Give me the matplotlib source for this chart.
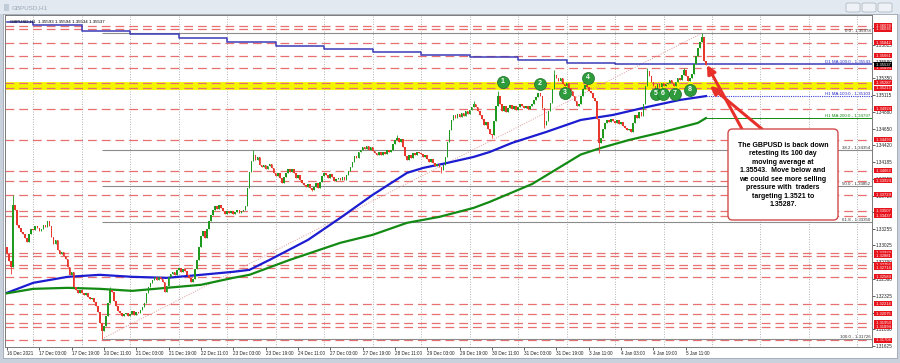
import numpy as np
from matplotlib import pyplot as plt
from matplotlib import transforms
from matplotlib.patches import FancyBboxPatch, Rectangle

plt.rcParams['font.family'] = ['Liberation Sans', 'DejaVu Sans']

# GBPUSD H1 closes, 16 Dec 11:00 -> 5 Jan 21:00 (broker time)
closes = [
    1.3290, 1.3281, 1.3273, 1.3359, 1.3352, 1.3331, 1.3327, 1.3321, 1.3318, 1.3313,
    1.3307, 1.3318, 1.3326, 1.3324, 1.3330, 1.3327, 1.3322, 1.3326, 1.3331, 1.3328,
    1.3336, 1.3330, 1.3315, 1.3305, 1.3310, 1.3296, 1.3290, 1.3294, 1.3288, 1.3284,
    1.3272, 1.3261, 1.3266, 1.3245, 1.3240, 1.3236, 1.3240, 1.3236, 1.3233, 1.3237,
    1.3231, 1.3228, 1.3230, 1.3224, 1.3219, 1.3210, 1.3195, 1.3183, 1.3190, 1.3205,
    1.3222, 1.3240, 1.3238, 1.3225, 1.3218, 1.3212, 1.3208, 1.3205, 1.3207, 1.3209,
    1.3204, 1.3207, 1.3211, 1.3206, 1.3210, 1.3208, 1.3213, 1.3217, 1.3222, 1.3236,
    1.3245, 1.3250, 1.3255, 1.3258, 1.3254, 1.3259, 1.3256, 1.3252, 1.3238, 1.3246,
    1.3258, 1.3263, 1.3266, 1.3262, 1.3268, 1.3271, 1.3266, 1.3270, 1.3267, 1.3262,
    1.3257, 1.3252, 1.3256, 1.3270, 1.3283, 1.3300, 1.3316, 1.3323, 1.3313, 1.3326,
    1.3336, 1.3345, 1.3352, 1.3357, 1.3353, 1.3359, 1.3354, 1.3350, 1.3346, 1.3350,
    1.3347, 1.3351, 1.3346, 1.3349, 1.3352, 1.3348, 1.3350, 1.3352, 1.3357, 1.3382,
    1.3405, 1.3420, 1.3428, 1.3421, 1.3425, 1.3414, 1.3411, 1.3415, 1.3409, 1.3413,
    1.3416, 1.3410, 1.3404, 1.3399, 1.3404, 1.3396, 1.3390, 1.3398, 1.3403, 1.3409,
    1.3405, 1.3409, 1.3403, 1.3397, 1.3401, 1.3394, 1.3390, 1.3386, 1.3384, 1.3388,
    1.3382, 1.3380, 1.3384, 1.3389, 1.3383, 1.3391, 1.3399, 1.3404, 1.3401, 1.3396,
    1.3402, 1.3398, 1.3392, 1.3395, 1.3397, 1.3393, 1.3398, 1.3394, 1.3400, 1.3406,
    1.3411, 1.3419, 1.3427, 1.3424, 1.3432, 1.3436, 1.3440, 1.3437, 1.3441, 1.3436,
    1.3439, 1.3434, 1.3431, 1.3428, 1.3432, 1.3429, 1.3433, 1.3430, 1.3435, 1.3432,
    1.3436, 1.3443, 1.3449, 1.3452, 1.3447, 1.3451, 1.3440, 1.3427, 1.3421, 1.3428,
    1.3424, 1.3431, 1.3428, 1.3433, 1.3431, 1.3430, 1.3425, 1.3429, 1.3423, 1.3419,
    1.3423, 1.3417, 1.3413, 1.3416, 1.3411, 1.3408, 1.3414, 1.3426, 1.3446, 1.3463,
    1.3477, 1.3484, 1.3480, 1.3485, 1.3481, 1.3487, 1.3483, 1.3489, 1.3486, 1.3491,
    1.3495, 1.3499, 1.3495, 1.3490, 1.3484, 1.3478, 1.3470, 1.3474, 1.3464, 1.3458,
    1.3456, 1.3476, 1.3496, 1.3510, 1.3500, 1.3490, 1.3497, 1.3488, 1.3494, 1.3498,
    1.3493, 1.3496, 1.3491, 1.3495, 1.3499, 1.3496, 1.3494, 1.3497, 1.3492, 1.3496,
    1.3500, 1.3505, 1.3509, 1.3514, 1.3510, 1.3494, 1.3470, 1.3476, 1.3489, 1.3501,
    1.3520, 1.3540, 1.3536, 1.3531, 1.3535, 1.3527, 1.3524, 1.3528, 1.3521, 1.3517,
    1.3510, 1.3503, 1.3497, 1.3500, 1.3511, 1.3520, 1.3526, 1.3523, 1.3518, 1.3514,
    1.3508, 1.3503, 1.3478, 1.3445, 1.3452, 1.3465, 1.3473, 1.3477, 1.3474, 1.3479,
    1.3476, 1.3473, 1.3477, 1.3471, 1.3474, 1.3469, 1.3466, 1.3463, 1.3465, 1.3461,
    1.3473, 1.3484, 1.3480, 1.3488, 1.3483, 1.3500, 1.3525, 1.3545, 1.3538, 1.3530,
    1.3525, 1.3522, 1.3527, 1.3523, 1.3528, 1.3524, 1.3527, 1.3529, 1.3533, 1.3528,
    1.3524, 1.3530, 1.3535, 1.3532, 1.3540, 1.3546, 1.3538, 1.3531, 1.3535, 1.3541,
    1.3555, 1.3566, 1.3577, 1.3585, 1.3592, 1.3559, 1.35537,
]
first_open = 1.3300

# visible wick extremes
wick_hi_bars = [3, 51, 122, 193, 231, 243, 271, 317, 335, 344, 346]
wick_hi = [1.3373, 1.3245, 1.3435, 1.3456, 1.3503, 1.3517, 1.3547, 1.3550, 1.3550, 1.35978, 1.35594]
wick_lo_bars = [2, 47, 151, 215, 240, 266, 293, 346]
wick_lo = [1.3263, 1.31726, 1.3378, 1.3404, 1.3452, 1.3466, 1.3431, 1.35534]

# moving averages
h1_ma100_bars = [0, 13, 30, 46, 62, 79, 96, 112, 120, 130, 149, 165, 181, 198, 206, 218,
                 231, 239, 250, 267, 284, 300, 317, 333, 346]
h1_ma100 = [1.32367, 1.32506, 1.32589, 1.32617, 1.32589, 1.32575, 1.32617, 1.32659, 1.32686,
            1.32825, 1.33103, 1.33409, 1.33729, 1.34035, 1.34104, 1.34174, 1.34257, 1.34326,
            1.34452, 1.34605, 1.34771, 1.34841, 1.34952, 1.35049, 1.35103]
h1_ma200_bars = [0, 13, 30, 46, 62, 79, 96, 112, 120, 140, 165, 181, 198, 214, 231, 239,
                 260, 284, 294, 308, 325, 342, 346]
h1_ma200 = [1.32360, 1.32422, 1.32436, 1.32422, 1.32394, 1.32436, 1.32478, 1.32575, 1.32617,
            1.32825, 1.33062, 1.33173, 1.33340, 1.33423, 1.33548, 1.33632, 1.33881, 1.34290,
            1.34382, 1.34493, 1.34605, 1.34730, 1.34797]
d1_days = [0, 13, 37, 61, 85, 109, 133, 157, 181, 205, 229, 253, 277, 301, 325]
d1_ma100 = [1.36134, 1.36092, 1.36009, 1.35967, 1.35911, 1.35856, 1.35793, 1.35758, 1.35717,
            1.35675, 1.35647, 1.35605, 1.35564, 1.35550, 1.35543]

red_levels = [1.36078, 1.36036, 1.35842, 1.35661, 1.35494, 1.35287, 1.35213, 1.34924,
              1.34493, 1.34063, 1.33924, 1.33729, 1.33507, 1.33437, 1.32923, 1.32881,
              1.32756, 1.32714, 1.32589, 1.32214, 1.32075, 1.31950, 1.31894, 1.31704]
zone_low, zone_high = 1.35213, 1.35287

fib_names = ['0.0', '38.2', '50.0', '61.8', '100.0']
fib_levels = [1.35978, 1.34354, 1.33852, 1.33350, 1.31726]
fib_low_bar, fib_high_bar = 47, 344

touch_bars = [245.5, 263.9, 276.2, 287.6, 321.3, 324.8, 330.7, 338.1]
touch_prices = [1.35300, 1.35272, 1.35147, 1.35355, 1.35133, 1.35133, 1.35133, 1.35188]

price_ticks = [1.31625, 1.31860, 1.32090, 1.32325, 1.32560, 1.32790, 1.33025, 1.33255,
               1.33490, 1.33720, 1.33955, 1.34185, 1.34420, 1.34650, 1.34880, 1.35115,
               1.35350, 1.35580, 1.35815, 1.36045]
time_labels = ['16 Dec 2021', '17 Dec 03:00', '17 Dec 19:00', '20 Dec 11:00', '21 Dec 03:00',
               '21 Dec 19:00', '22 Dec 11:00', '23 Dec 03:00', '23 Dec 19:00', '24 Dec 11:00',
               '27 Dec 03:00', '27 Dec 19:00', '28 Dec 11:00', '29 Dec 03:00', '29 Dec 19:00',
               '30 Dec 11:00', '31 Dec 03:00', '31 Dec 19:00', '3 Jan 11:00', '4 Jan 03:00',
               '4 Jan 19:00', '5 Jan 11:00']
last_price = 1.35537

note = ("The GBPUSD is back down\nretesting its 100 day\nmoving average at\n"
        "1.35543.  Move below and\nwe could see more selling\npressure with  traders\n"
        "targeting 1.3521 to\n1.35287.")

GREEN = '#1e9a1e'
RED = '#e8382e'
W, H = 900, 363


def px(x, y):
    return (x / W, 1 - y / H)


fig = plt.figure(figsize=(9, 3.63), dpi=100, facecolor='#c9d2dc')

# window chrome (behind the axes)
fig.patches.append(Rectangle(px(0, 14), 1, 14 / H, transform=fig.transFigure,
                             facecolor='#e3e9f0', edgecolor='none', zorder=-2))
fig.patches.append(Rectangle(px(3, 358), 894 / W, 344 / H, transform=fig.transFigure,
                             facecolor='white', edgecolor='#9aa6b2', lw=0.6, zorder=-2))
fig.text(*px(12, 7.5), 'GBPUSD,H1', fontsize=4.5, color='#9aa8b8', va='center')
fig.patches.append(Rectangle(px(4, 11), 5 / W, 7 / H, transform=fig.transFigure,
                             facecolor='#c0ccd8', edgecolor='none', zorder=-1))
for bx in [846, 862, 878]:
    fig.patches.append(FancyBboxPatch(px(bx, 12), 14 / W, 9 / H, transform=fig.transFigure,
                                      boxstyle='round,pad=0,rounding_size=0.003',
                                      facecolor='#eef2f6', edgecolor='#a4b0bc', lw=0.5, zorder=-1))

ax = fig.add_axes([4.5 / W, 1 - 346.5 / H, (872 - 4.5) / W, (346.5 - 15) / H])
ax.set_zorder(1)
ax.set_facecolor('white')
xmin, xmax = -1.25, 428.2
ax.set_xlim(xmin, xmax)
ax.set_ylim(1.31620, 1.36231)
for s in ax.spines.values():
    s.set_color('#7a7a7a')
    s.set_linewidth(0.7)

# day separators
for d in range(13, 429, 24):
    ax.axvline(d, color='#9a9a9a', lw=0.6, ls=(0, (1, 2)), zorder=1)

# support / resistance
ax.axhspan(zone_low, zone_high, color='#f4f400', lw=2.0, zorder=1)
for lvl in red_levels:
    ax.axhline(lvl, color='#e87070', lw=0.9, ls=(0, (7, 4)), zorder=2)

# fibonacci retracement
ax.hlines(fib_levels, fib_low_bar, xmax, colors='#8c8c8c', lw=0.8, zorder=2)
ax.plot([fib_low_bar, fib_high_bar], [fib_levels[-1], fib_levels[0]],
        color='#e09a9a', lw=0.7, ls=(0, (1, 1.5)), zorder=2)
for name, lvl in zip(fib_names, fib_levels):
    ax.text(xmax - 0.8, lvl + 0.00005, '%s - %.5f' % (name, lvl), ha='right', va='bottom',
            fontsize=3.2, color='#333333', zorder=6)

# moving averages
ax.step(d1_days + [xmax], d1_ma100 + [d1_ma100[-1]], where='post', color='#3a3ab8', lw=1.1, zorder=3)
ax.plot(h1_ma100_bars, h1_ma100, color='#1c1cd0', lw=1.6, zorder=3)
ax.hlines(h1_ma100[-1], h1_ma100_bars[-1], xmax, colors='#3a3ad8', lw=0.8, linestyles=(0, (1, 1)), zorder=3)
ax.plot(h1_ma200_bars, h1_ma200, color='#138a13', lw=1.6, zorder=3)
ax.hlines(h1_ma200[-1], h1_ma200_bars[-1], xmax, colors='#138a13', lw=0.7, zorder=3)
ax.text(xmax - 0.8, d1_ma100[-1] + 0.00005, 'D1 MA:100:0 - %.5f' % d1_ma100[-1], ha='right',
        va='bottom', fontsize=3.2, color='#2828c8', zorder=6)
ax.text(xmax - 0.8, h1_ma100[-1] + 0.00005, 'H1 MA:100:0 - %.5f' % h1_ma100[-1], ha='right',
        va='bottom', fontsize=3.2, color='#2828c8', zorder=6)
ax.text(xmax - 0.8, h1_ma200[-1] + 0.00005, 'H1 MA:200:0 - %.5f' % h1_ma200[-1], ha='right',
        va='bottom', fontsize=3.2, color='#138a13', zorder=6)

# candles
c = np.array(closes)
o = np.array([first_open] + closes[:-1])
idx = np.arange(len(c))
hi = np.maximum(o, c)
lo = np.minimum(o, c)
hi[wick_hi_bars] = wick_hi
lo[wick_lo_bars] = wick_lo
cols = np.where(c >= o, GREEN, RED)
ax.vlines(idx, lo, hi, colors=cols, lw=0.6, zorder=4)
ax.bar(idx, np.maximum(np.abs(c - o), 0.00003), bottom=np.minimum(o, c), width=0.8,
       color=cols, lw=0, zorder=5)

# numbered touches of the zone
ax.scatter(touch_bars, touch_prices, s=75, color='#2e9c3c', edgecolors='#1d6f29',
           linewidths=0.5, zorder=7)
for k, (tb, tp) in enumerate(zip(touch_bars, touch_prices)):
    ax.text(tb, tp, str(k + 1), ha='center', va='center', fontsize=5, color='white',
            fontweight='bold', zorder=8)

ax.text(*px(10, 21.5), 'GBPUSD,H1  1.35593 1.35594 1.35534 1.35537', transform=fig.transFigure,
        fontsize=3.2, color='black', va='center', zorder=9)

# axes ticks
ax.set_xticks(range(0, 337, 16))
ax.set_xticklabels(time_labels, ha='left')
ax.tick_params(axis='x', length=2, width=0.5, labelsize=3.3, pad=1.5, colors='#222222')
ax.yaxis.tick_right()
ax.set_yticks(price_ticks)
ax.set_yticklabels(['%.5f' % t for t in price_ticks])
ax.tick_params(axis='y', length=2, width=0.5, labelsize=3.3, pad=1, colors='#222222')

yblend = transforms.blended_transform_factory(ax.transAxes, ax.transData)
for lvl in red_levels:
    ax.text(1.003, lvl, ' %.5f ' % lvl, transform=yblend, ha='left', va='center', fontsize=3.0,
            color='white', clip_on=False, zorder=10,
            bbox=dict(boxstyle='square,pad=0.12', fc='#e8141c', ec='none'))
ax.text(1.003, last_price, ' %.5f ' % last_price, transform=yblend, ha='left', va='center',
        fontsize=3.0, color='white', clip_on=False, zorder=11,
        bbox=dict(boxstyle='square,pad=0.12', fc='black', ec='none'))

# commentary box and arrows
fig.patches.append(FancyBboxPatch(px(728, 220), 110 / W, 91 / H, transform=fig.transFigure,
                                  boxstyle='round,pad=0,rounding_size=0.005', mutation_aspect=2.5,
                                  facecolor='white', edgecolor='#d24b4b', lw=1.0, zorder=20))
fig.text(*px(783, 175), note, ha='center', va='center', fontsize=5, fontweight='bold',
         linespacing=1.3, color='black', zorder=21)
arrow = dict(arrowstyle='-|>,head_length=0.5,head_width=0.25', color='#e8302a', lw=2.2,
             shrinkA=0, shrinkB=0)
ax.annotate('', xy=(346.5, 1.35536), xytext=px(742, 129), textcoords='figure fraction',
            arrowprops=arrow, zorder=12, annotation_clip=False)
ax.annotate('', xy=(348, 1.35244), xytext=px(762, 129), textcoords='figure fraction',
            arrowprops=arrow, zorder=12, annotation_clip=False)

fig.savefig('out.png', dpi=100, facecolor=fig.get_facecolor())
